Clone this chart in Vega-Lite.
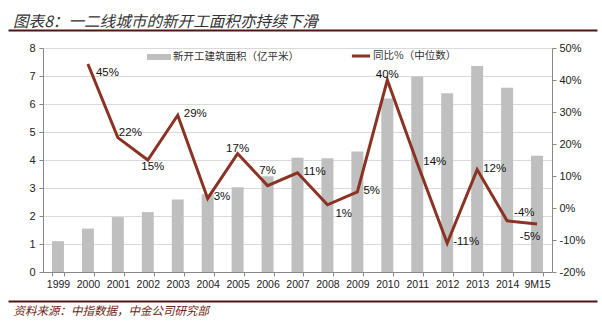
{
  "$schema": "https://vega.github.io/schema/vega-lite/v6.json",
  "width": 509,
  "height": 224,
  "autosize": {"type": "none"},
  "padding": {"left": 43, "top": 48, "right": 50, "bottom": 50},
  "background": "white",
  "config": {
    "view": {"stroke": null},
    "font": "Liberation Sans",
    "locale": {"number": {"decimal": ".", "thousands": ",", "grouping": [3], "currency": ["$", ""], "minus": "-"}},
    "axisRight": {"labelOverlap": false}
  },
  "title": {
    "text": "图表8：一二线城市的新开工面积亦持续下滑",
    "anchor": "start",
    "frame": "group",
    "dx": -30,
    "offset": -1,
    "font": "Noto Sans CJK SC",
    "fontSize": 15.6,
    "fontStyle": "italic",
    "fontWeight": "normal",
    "color": "#333333"
  },
  "data": {
    "values": [
      {"year": "1999", "area": 1.1, "yoy": null},
      {"year": "2000", "area": 1.55, "yoy": 0.45},
      {"year": "2001", "area": 1.96, "yoy": 0.22},
      {"year": "2002", "area": 2.14, "yoy": 0.15},
      {"year": "2003", "area": 2.59, "yoy": 0.29},
      {"year": "2004", "area": 2.78, "yoy": 0.03},
      {"year": "2005", "area": 3.03, "yoy": 0.17},
      {"year": "2006", "area": 3.42, "yoy": 0.07},
      {"year": "2007", "area": 4.08, "yoy": 0.11},
      {"year": "2008", "area": 4.06, "yoy": 0.01},
      {"year": "2009", "area": 4.3, "yoy": 0.05},
      {"year": "2010", "area": 6.2, "yoy": 0.4},
      {"year": "2011", "area": 6.98, "yoy": 0.14},
      {"year": "2012", "area": 6.38, "yoy": -0.11},
      {"year": "2013", "area": 7.36, "yoy": 0.12},
      {"year": "2014", "area": 6.58, "yoy": -0.04},
      {"year": "9M15", "area": 4.15, "yoy": -0.05}
    ]
  },
  "layer": [
    {
      "mark": {"type": "bar"},
      "encoding": {
        "x": {
          "field": "year", "type": "nominal",
          "scale": {"paddingInner": 0.6, "paddingOuter": 0.3},
          "axis": {"title": null, "labelAngle": 0, "tickBand": "extent", "domainColor": "#888888", "tickColor": "#888888", "tickSize": 4, "labelFontSize": 10.5, "labelColor": "#222222", "labelPadding": 3, "grid": false, "labelOverlap": false}
        },
        "y": {
          "field": "area", "type": "quantitative",
          "scale": {"domain": [0, 8], "nice": false},
          "axis": {"title": null, "values": [0, 1, 2, 3, 4, 5, 6, 7, 8], "grid": true, "gridColor": "#d9d9d9", "domainColor": "#888888", "tickColor": "#888888", "tickSize": 4, "labelFontSize": 11, "labelColor": "#222222", "labelPadding": 4, "labelOverlap": false}
        },
        "fill": {
          "datum": "新开工建筑面积（亿平米）", "type": "nominal",
          "scale": {"range": ["#bfbfbf"]},
          "legend": {"title": null, "orient": "none", "legendX": 104, "legendY": -3, "padding": 0, "symbolType": "M-1,-0.25H1V0.25H-1Z", "symbolSize": 576, "symbolStrokeWidth": 0, "labelFont": "Noto Sans CJK SC", "labelFontSize": 10.5, "labelColor": "#333333", "labelOffset": 2}
        }
      }
    },
    {
      "layer": [
        {
          "transform": [{"filter": "datum.yoy != null"}],
          "mark": {"type": "line", "strokeWidth": 3},
          "encoding": {
            "x": {"field": "year", "type": "nominal", "scale": {"domain": ["1999", "2000", "2001", "2002", "2003", "2004", "2005", "2006", "2007", "2008", "2009", "2010", "2011", "2012", "2013", "2014", "9M15"], "paddingInner": 0.6, "paddingOuter": 0.3}, "axis": null},
            "y": {
              "field": "yoy", "type": "quantitative",
              "scale": {"domain": [-0.2, 0.5], "nice": false, "zero": false},
              "axis": {"orient": "right", "title": null, "values": [-0.2, -0.1, 0, 0.1, 0.2, 0.3, 0.4, 0.5], "format": ".0%", "grid": false, "domainColor": "#888888", "tickColor": "#888888", "tickSize": 4, "labelFontSize": 11, "labelColor": "#222222", "labelPadding": 3, "labelOverlap": false}
            },
            "stroke": {
              "datum": "同比%（中位数）", "type": "nominal",
              "scale": {"range": ["#8a3324"]},
              "legend": {"title": null, "orient": "none", "legendX": 307, "legendY": -3, "padding": 0, "symbolType": "M-1,0H1", "symbolSize": 330, "symbolStrokeWidth": 3, "labelFont": "Noto Sans CJK SC", "labelFontSize": 10.5, "labelColor": "#333333", "labelOffset": 1}
            }
          }
        },
        {
          "transform": [{"filter": {"field": "year", "oneOf": ["2003", "2004", "2007", "2009", "2011", "2012", "2013"]}}],
          "mark": {"type": "text", "font": "Liberation Sans", "fontSize": 11.5, "color": "#111111", "align": "left", "baseline": "middle", "dx": 6, "dy": -1},
          "encoding": {
            "x": {"field": "year", "type": "nominal", "scale": {"domain": ["1999", "2000", "2001", "2002", "2003", "2004", "2005", "2006", "2007", "2008", "2009", "2010", "2011", "2012", "2013", "2014", "9M15"], "paddingInner": 0.6, "paddingOuter": 0.3}, "axis": null},
            "y": {
              "field": "yoy", "type": "quantitative",
              "scale": {"domain": [-0.2, 0.5], "nice": false, "zero": false},
              "axis": {"orient": "right", "title": null, "values": [-0.2, -0.1, 0, 0.1, 0.2, 0.3, 0.4, 0.5], "format": ".0%", "grid": false, "domainColor": "#888888", "tickColor": "#888888", "tickSize": 4, "labelFontSize": 11, "labelColor": "#222222", "labelPadding": 3, "labelOverlap": false}
            },
            "text": {"field": "yoy", "type": "quantitative", "format": ".0%"}
          }
        },
        {
          "transform": [{"filter": {"field": "year", "oneOf": ["2005", "2010"]}}],
          "mark": {"type": "text", "font": "Liberation Sans", "fontSize": 11.5, "color": "#111111", "align": "center", "baseline": "middle", "dy": -5},
          "encoding": {
            "x": {"field": "year", "type": "nominal", "scale": {"domain": ["1999", "2000", "2001", "2002", "2003", "2004", "2005", "2006", "2007", "2008", "2009", "2010", "2011", "2012", "2013", "2014", "9M15"], "paddingInner": 0.6, "paddingOuter": 0.3}, "axis": null},
            "y": {
              "field": "yoy", "type": "quantitative",
              "scale": {"domain": [-0.2, 0.5], "nice": false, "zero": false},
              "axis": {"orient": "right", "title": null, "values": [-0.2, -0.1, 0, 0.1, 0.2, 0.3, 0.4, 0.5], "format": ".0%", "grid": false, "domainColor": "#888888", "tickColor": "#888888", "tickSize": 4, "labelFontSize": 11, "labelColor": "#222222", "labelPadding": 3, "labelOverlap": false}
            },
            "text": {"field": "yoy", "type": "quantitative", "format": ".0%"}
          }
        },
        {
          "transform": [{"filter": {"field": "year", "oneOf": ["2006"]}}],
          "mark": {"type": "text", "font": "Liberation Sans", "fontSize": 11.5, "color": "#111111", "align": "center", "baseline": "middle", "dy": -15},
          "encoding": {
            "x": {"field": "year", "type": "nominal", "scale": {"domain": ["1999", "2000", "2001", "2002", "2003", "2004", "2005", "2006", "2007", "2008", "2009", "2010", "2011", "2012", "2013", "2014", "9M15"], "paddingInner": 0.6, "paddingOuter": 0.3}, "axis": null},
            "y": {
              "field": "yoy", "type": "quantitative",
              "scale": {"domain": [-0.2, 0.5], "nice": false, "zero": false},
              "axis": {"orient": "right", "title": null, "values": [-0.2, -0.1, 0, 0.1, 0.2, 0.3, 0.4, 0.5], "format": ".0%", "grid": false, "domainColor": "#888888", "tickColor": "#888888", "tickSize": 4, "labelFontSize": 11, "labelColor": "#222222", "labelPadding": 3, "labelOverlap": false}
            },
            "text": {"field": "yoy", "type": "quantitative", "format": ".0%"}
          }
        },
        {
          "transform": [{"filter": {"field": "year", "oneOf": ["2002"]}}],
          "mark": {"type": "text", "font": "Liberation Sans", "fontSize": 11.5, "color": "#111111", "align": "center", "baseline": "middle", "dx": 5, "dy": 7},
          "encoding": {
            "x": {"field": "year", "type": "nominal", "scale": {"domain": ["1999", "2000", "2001", "2002", "2003", "2004", "2005", "2006", "2007", "2008", "2009", "2010", "2011", "2012", "2013", "2014", "9M15"], "paddingInner": 0.6, "paddingOuter": 0.3}, "axis": null},
            "y": {
              "field": "yoy", "type": "quantitative",
              "scale": {"domain": [-0.2, 0.5], "nice": false, "zero": false},
              "axis": {"orient": "right", "title": null, "values": [-0.2, -0.1, 0, 0.1, 0.2, 0.3, 0.4, 0.5], "format": ".0%", "grid": false, "domainColor": "#888888", "tickColor": "#888888", "tickSize": 4, "labelFontSize": 11, "labelColor": "#222222", "labelPadding": 3, "labelOverlap": false}
            },
            "text": {"field": "yoy", "type": "quantitative", "format": ".0%"}
          }
        },
        {
          "transform": [{"filter": {"field": "year", "oneOf": ["2000", "2008"]}}],
          "mark": {"type": "text", "font": "Liberation Sans", "fontSize": 11.5, "color": "#111111", "align": "left", "baseline": "middle", "dx": 8, "dy": 9},
          "encoding": {
            "x": {"field": "year", "type": "nominal", "scale": {"domain": ["1999", "2000", "2001", "2002", "2003", "2004", "2005", "2006", "2007", "2008", "2009", "2010", "2011", "2012", "2013", "2014", "9M15"], "paddingInner": 0.6, "paddingOuter": 0.3}, "axis": null},
            "y": {
              "field": "yoy", "type": "quantitative",
              "scale": {"domain": [-0.2, 0.5], "nice": false, "zero": false},
              "axis": {"orient": "right", "title": null, "values": [-0.2, -0.1, 0, 0.1, 0.2, 0.3, 0.4, 0.5], "format": ".0%", "grid": false, "domainColor": "#888888", "tickColor": "#888888", "tickSize": 4, "labelFontSize": 11, "labelColor": "#222222", "labelPadding": 3, "labelOverlap": false}
            },
            "text": {"field": "yoy", "type": "quantitative", "format": ".0%"}
          }
        },
        {
          "transform": [{"filter": {"field": "year", "oneOf": ["2001"]}}],
          "mark": {"type": "text", "font": "Liberation Sans", "fontSize": 11.5, "color": "#111111", "align": "left", "baseline": "middle", "dx": 1, "dy": -5},
          "encoding": {
            "x": {"field": "year", "type": "nominal", "scale": {"domain": ["1999", "2000", "2001", "2002", "2003", "2004", "2005", "2006", "2007", "2008", "2009", "2010", "2011", "2012", "2013", "2014", "9M15"], "paddingInner": 0.6, "paddingOuter": 0.3}, "axis": null},
            "y": {
              "field": "yoy", "type": "quantitative",
              "scale": {"domain": [-0.2, 0.5], "nice": false, "zero": false},
              "axis": {"orient": "right", "title": null, "values": [-0.2, -0.1, 0, 0.1, 0.2, 0.3, 0.4, 0.5], "format": ".0%", "grid": false, "domainColor": "#888888", "tickColor": "#888888", "tickSize": 4, "labelFontSize": 11, "labelColor": "#222222", "labelPadding": 3, "labelOverlap": false}
            },
            "text": {"field": "yoy", "type": "quantitative", "format": ".0%"}
          }
        },
        {
          "transform": [{"filter": {"field": "year", "oneOf": ["2014"]}}],
          "mark": {"type": "text", "font": "Liberation Sans", "fontSize": 11.5, "color": "#111111", "align": "left", "baseline": "middle", "dx": 7, "dy": -8},
          "encoding": {
            "x": {"field": "year", "type": "nominal", "scale": {"domain": ["1999", "2000", "2001", "2002", "2003", "2004", "2005", "2006", "2007", "2008", "2009", "2010", "2011", "2012", "2013", "2014", "9M15"], "paddingInner": 0.6, "paddingOuter": 0.3}, "axis": null},
            "y": {
              "field": "yoy", "type": "quantitative",
              "scale": {"domain": [-0.2, 0.5], "nice": false, "zero": false},
              "axis": {"orient": "right", "title": null, "values": [-0.2, -0.1, 0, 0.1, 0.2, 0.3, 0.4, 0.5], "format": ".0%", "grid": false, "domainColor": "#888888", "tickColor": "#888888", "tickSize": 4, "labelFontSize": 11, "labelColor": "#222222", "labelPadding": 3, "labelOverlap": false}
            },
            "text": {"field": "yoy", "type": "quantitative", "format": ".0%"}
          }
        },
        {
          "transform": [{"filter": {"field": "year", "oneOf": ["9M15"]}}],
          "mark": {"type": "text", "font": "Liberation Sans", "fontSize": 11.5, "color": "#111111", "align": "center", "baseline": "middle", "dx": -7, "dy": 13},
          "encoding": {
            "x": {"field": "year", "type": "nominal", "scale": {"domain": ["1999", "2000", "2001", "2002", "2003", "2004", "2005", "2006", "2007", "2008", "2009", "2010", "2011", "2012", "2013", "2014", "9M15"], "paddingInner": 0.6, "paddingOuter": 0.3}, "axis": null},
            "y": {
              "field": "yoy", "type": "quantitative",
              "scale": {"domain": [-0.2, 0.5], "nice": false, "zero": false},
              "axis": {"orient": "right", "title": null, "values": [-0.2, -0.1, 0, 0.1, 0.2, 0.3, 0.4, 0.5], "format": ".0%", "grid": false, "domainColor": "#888888", "tickColor": "#888888", "tickSize": 4, "labelFontSize": 11, "labelColor": "#222222", "labelPadding": 3, "labelOverlap": false}
            },
            "text": {"field": "yoy", "type": "quantitative", "format": ".0%"}
          }
        }
      ]
    },
    {
      "transform": [{"filter": "false"}],
      "mark": {"type": "point"},
      "encoding": {
        "x": {
          "field": "area", "type": "quantitative",
          "scale": {"domain": [0, 1], "range": [-35, 554], "nice": false, "zero": false},
          "axis": {"orient": "top", "offset": 18, "domainColor": "#4a1612", "domainWidth": 2, "ticks": false, "labels": false, "title": null, "grid": false}
        }
      }
    },
    {
      "transform": [{"filter": "false"}],
      "mark": {"type": "point"},
      "encoding": {
        "x": {
          "field": "area", "type": "quantitative",
          "scale": {"domain": [0, 1], "range": [-35, 554], "nice": false, "zero": false},
          "axis": {"orient": "bottom", "offset": 29, "domainColor": "#4a1612", "domainWidth": 2, "ticks": false, "labels": false, "grid": false, "title": "资料来源：中指数据，中金公司研究部", "titleFont": "Noto Sans CJK SC", "titleFontSize": 11.5, "titleFontStyle": "italic", "titleFontWeight": "normal", "titleColor": "#6e1e14", "titleAnchor": "start", "titleAlign": "left", "titleX": -30, "titleY": 10, "titleBaseline": "middle"}
        }
      }
    }
  ],
  "resolve": {"scale": {"y": "independent", "x": "independent"}, "axis": {"x": "independent"}}
}
